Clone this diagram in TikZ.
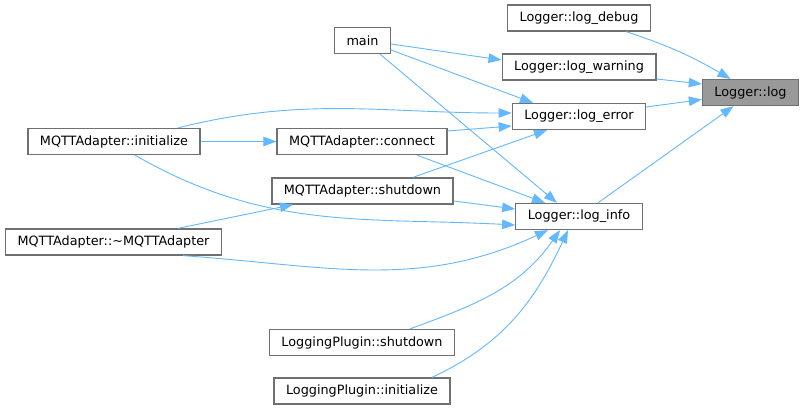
\documentclass[tikz,border=0pt]{standalone}
\usepackage{fontspec}
\setmainfont{DejaVu Sans}
\usepackage{tikz}
\usetikzlibrary{arrows.meta}
\definecolor{edgeblue}{HTML}{63B8FF}
\definecolor{boxgray}{HTML}{707070}
\definecolor{hlgray}{HTML}{999999}

\begin{document}
\begin{tikzpicture}[x=1pt,y=-1pt,font=\fontsize{12.8}{15}\selectfont,
  fn/.style={draw=boxgray,fill=white,line width=1.3pt,minimum height=26pt,inner xsep=12pt,inner ysep=0pt},
  call/.style={draw=edgeblue,line width=0.9pt,-{Triangle[length=13pt,width=9.5pt,fill=edgeblue]}}]
  \useasboundingbox[fill=white] (0,0) rectangle (804,411);
  % callee and its direct callers
  \node[fn,fill=hlgray] (log) at (750.5,92.5) {Logger::log};
  \node[fn] (debug) at (579,18) {Logger::log\_debug};
  \node[fn] (warning) at (579,67) {Logger::log\_warning};
  \node[fn] (error) at (579,116.5) {Logger::log\_error};
  \node[fn] (info) at (579,216.5) {Logger::log\_info};
  % second rank
  \node[fn] (main) at (362.5,40.5) {main};
  \node[fn] (connect) at (362,141.5) {MQTTAdapter::connect};
  \node[fn] (shutdown) at (362.5,191) {MQTTAdapter::shutdown};
  \node[fn] (lpshutdown) at (362,342.5) {LoggingPlugin::shutdown};
  \node[fn] (lpinit) at (362,391) {LoggingPlugin::initialize};
  % third rank
  \node[fn] (init) at (114,141.5) {MQTTAdapter::initialize};
  \node[fn] (dtor) at (113.5,242) {MQTTAdapter::\textasciitilde MQTTAdapter};

  \draw[call] ([xshift=47pt]debug.south) to[out=-18,in=150] ([xshift=-20pt]log.north);
  \draw[call] ([yshift=-12pt]warning.east) -- ([yshift=8.5pt]log.west);
  \draw[call] ([yshift=9.5pt]error.east) -- ([yshift=-7pt]log.west);
  \draw[call] ([xshift=19pt]info.north) -- ([xshift=-17pt]log.south);

  \draw[call] ([yshift=-3.5pt]main.east) -- ([yshift=7pt]warning.west);
  \draw[call] ([yshift=-9.5pt]main.east) -- ([xshift=-46pt]error.north);
  \draw[call] ([xshift=17.5pt]main.south) -- ([xshift=-22pt]info.north);

  \draw[call] ([xshift=64pt]init.north) to[out=14,in=180] ([yshift=3.5pt]error.west);
  \draw[call] (init.east) -- (connect.west);
  \draw[call] ([xshift=21pt]init.south) to[out=-30,in=177] ([yshift=-8.5pt]info.west);

  \draw[call] ([yshift=10.5pt]connect.east) -- ([yshift=-9.5pt]error.west);
  \draw[call] ([xshift=55pt]connect.south) -- ([xshift=-34pt]info.north);

  \draw[call] ([xshift=50.5pt]shutdown.north) -- ([xshift=-32pt]error.south);
  \draw[call] ([yshift=-10pt]shutdown.east) -- ([yshift=7.5pt]info.west);

  \draw[call] ([xshift=64.5pt]dtor.north) -- ([xshift=-69.5pt]shutdown.south);
  \draw[call] ([xshift=69.5pt]dtor.south) to[out=-4,in=-155] ([xshift=-31pt]info.south);

  \draw[call] ([xshift=48pt]lpshutdown.north) to[out=20,in=-125] ([xshift=-19pt]info.south);
  \draw[call] ([xshift=70pt]lpinit.north) to[out=25,in=-115] ([xshift=-11pt]info.south);
\end{tikzpicture}
\end{document}
